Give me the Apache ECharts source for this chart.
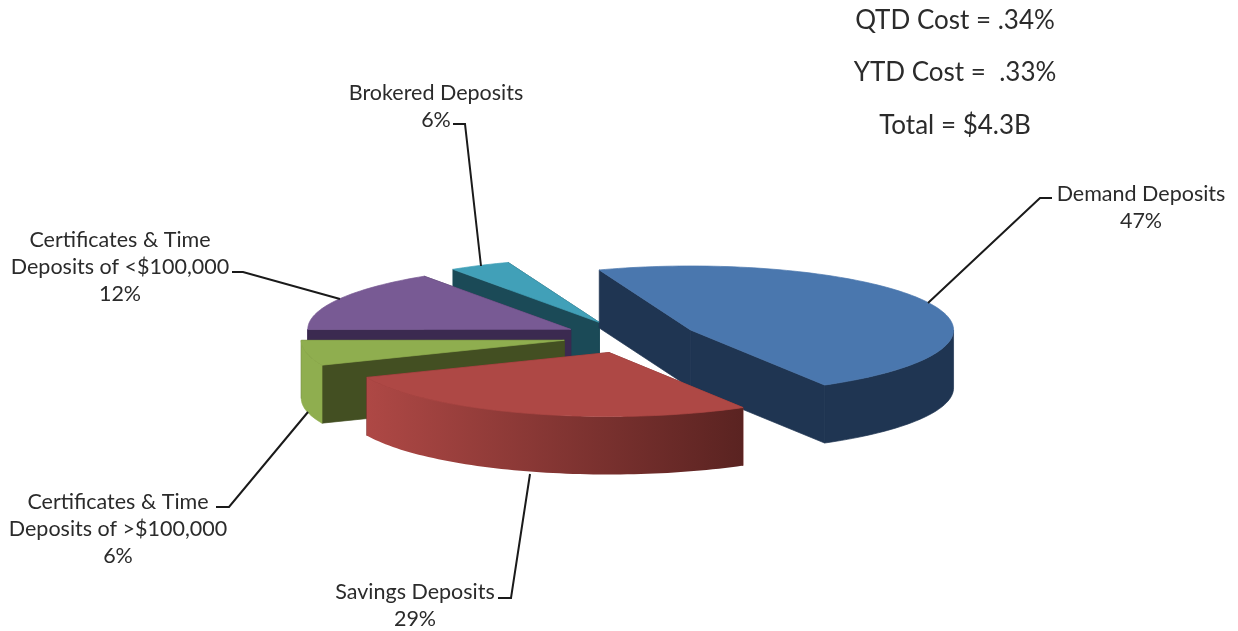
<!DOCTYPE html>
<html>
<head>
<meta charset="utf-8">
<style>html,body{margin:0;padding:0;background:#fff}#chart{width:1238px;height:631px}</style>
<script src="https://cdn.jsdelivr.net/npm/echarts@6/dist/echarts.min.js"></script>
</head>
<body>
<div id="chart"></div>
<script>
// Deposit mix, listed clockwise starting at the near edge of the Savings slice.
const categories = [
  'Savings Deposits',
  'Certificates & Time\nDeposits of >$100,000',
  'Certificates & Time\nDeposits of <$100,000',
  'Brokered Deposits',
  'Demand Deposits'
];
const shares = [29, 6, 12, 6, 47];
const summaryLines = ['QTD Cost = .34%', 'YTD Cost =  .33%', 'Total = $4.3B'];

// Tilted pie geometry, in pixels.
const CENTER = [630, 337];
const RADIUS_X = 263;
const RADIUS_Y = 64;
const THICKNESS = 58;
const EXPLODE = 0.255;
const START_ANGLE = 53.5;

const FONT = 'Lato, "Open Sans", sans-serif';
const INK = '#2b2b2b';

// Slice appearance and annotation layout, by category position.
const paintRank = [4, 2, 1, 0, 3];
const topColors = ['#ae4845', '#8fae4f', '#785a94', '#41a0b8', '#4a77ae'];
const cutColors = ['#7a2f2d', '#434f22', '#3b2a50', '#1b4a57', '#1f3552'];
const wallColors = [
  ['#ae4845', '#5a2321'],
  ['#8fae4f', '#8fae4f'],
  ['#3b2a50', '#3b2a50'],
  ['#1b4a57', '#1b4a57'],
  ['#1f3552', '#1f3552']
];
const labelAnchors = [[415, 606], [118, 529], [120, 267], [436, 107], [1141, 208]];
const leaderPaths = [
  [[498, 598], [511, 598], [530, 474]],
  [[216, 507], [229, 507], [308, 412]],
  [[232, 272], [243, 272], [340, 299]],
  [[453, 124], [465, 124], [481, 266]],
  [[928, 303], [1040, 198], [1052, 198]]
];

const rad = d => d * Math.PI / 180;

// The tilted view slightly bends equal sweeps; this keeps slices following the rim.
function rimAngle(sweep) {
  return sweep + START_ANGLE
    + 7 * Math.sin(rad(2 * (sweep - 127)))
    + 4 * Math.cos(rad(6 * (sweep - 169)))
    - 2.5 * Math.cos(rad(sweep));
}

const rimPoint = (origin, t) => [
  origin[0] + RADIUS_X * Math.cos(rad(t)),
  origin[1] + RADIUS_Y * Math.sin(rad(t))
];
const lowered = p => [p[0], p[1] + THICKNESS];

function arcPoints(origin, from, to) {
  const pts = [];
  const steps = Math.max(2, Math.ceil((to - from) / 1.5));
  for (let i = 0; i <= steps; i++) pts.push(rimPoint(origin, from + (to - from) * i / steps));
  return pts;
}

function renderSlice(params, api) {
  const i = params.dataIndex;
  const total = shares.reduce((a, b) => a + b, 0);
  const before = shares.slice(0, i).reduce((a, b) => a + b, 0);
  const t1 = rimAngle(before / total * 360);
  const t2 = rimAngle((before + api.value(0)) / total * 360);
  const mid = (t1 + t2) / 2;
  const apex = [
    CENTER[0] + EXPLODE * RADIUS_X * Math.cos(rad(mid)),
    CENTER[1] + EXPLODE * RADIUS_Y * Math.sin(rad(mid))
  ];
  const base = paintRank[i] * 10;
  const children = [];
  // Same-colour hairline closes the seams between adjoining faces.
  const polygon = (points, fill, z2, seam) => ({
    type: 'polygon',
    z2,
    shape: { points },
    style: { fill, stroke: seam || fill, lineWidth: seam === null ? 0 : 0.7 }
  });

  // Cut faces: the one reaching farther back is painted first.
  const ends = [t1, t2].sort((a, b) => Math.sin(rad(a)) - Math.sin(rad(b)));
  ends.forEach((t, k) => {
    const c = rimPoint(apex, t);
    children.push(polygon([apex, c, lowered(c), lowered(apex)], cutColors[i], base + k));
  });

  // Outer wall: only the stretch of rim that faces the viewer.
  [[0, 180], [360, 540]].forEach(range => {
    const from = Math.max(t1, range[0]);
    const to = Math.min(t2, range[1]);
    if (to <= from) return;
    const rim = arcPoints(apex, from, to);
    const shaded = wallColors[i][0] !== wallColors[i][1];
    const fill = shaded
      ? new echarts.graphic.LinearGradient(0, 0, 1, 0, [
          { offset: 0, color: wallColors[i][0] },
          { offset: 1, color: wallColors[i][1] }
        ])
      : wallColors[i][0];
    children.push(polygon(rim.concat(rim.map(lowered).reverse()), fill, base + 2, shaded ? null : undefined));
  });

  // Top face.
  children.push(polygon([apex].concat(arcPoints(apex, t1, t2)), topColors[i], base + 3));

  // Leader line and its label.
  children.push({
    type: 'polyline',
    z2: 100,
    shape: { points: leaderPaths[i] },
    style: { fill: null, stroke: '#1a1a1a', lineWidth: 2 }
  });
  children.push({
    type: 'text',
    z2: 100,
    x: labelAnchors[i][0],
    y: labelAnchors[i][1],
    style: {
      text: categories[i] + '\n' + api.value(0) + '%',
      font: '21.5px ' + FONT,
      lineHeight: 27,
      fill: INK,
      align: 'center',
      verticalAlign: 'middle'
    }
  });
  return { type: 'group', children };
}

const chart = echarts.init(document.getElementById('chart'), null, { renderer: 'canvas' });
chart.setOption({
  backgroundColor: '#ffffff',
  animation: false,
  series: [{
    type: 'custom',
    coordinateSystem: 'none',
    renderItem: renderSlice,
    data: shares,
    silent: true
  }],
  graphic: summaryLines.map((line, k) => ({
    type: 'text',
    x: 955,
    y: 20.5 + k * 52.5,
    style: {
      text: line,
      font: '26px ' + FONT,
      fill: INK,
      align: 'center',
      verticalAlign: 'middle'
    }
  }))
});
</script>
</body>
</html>
